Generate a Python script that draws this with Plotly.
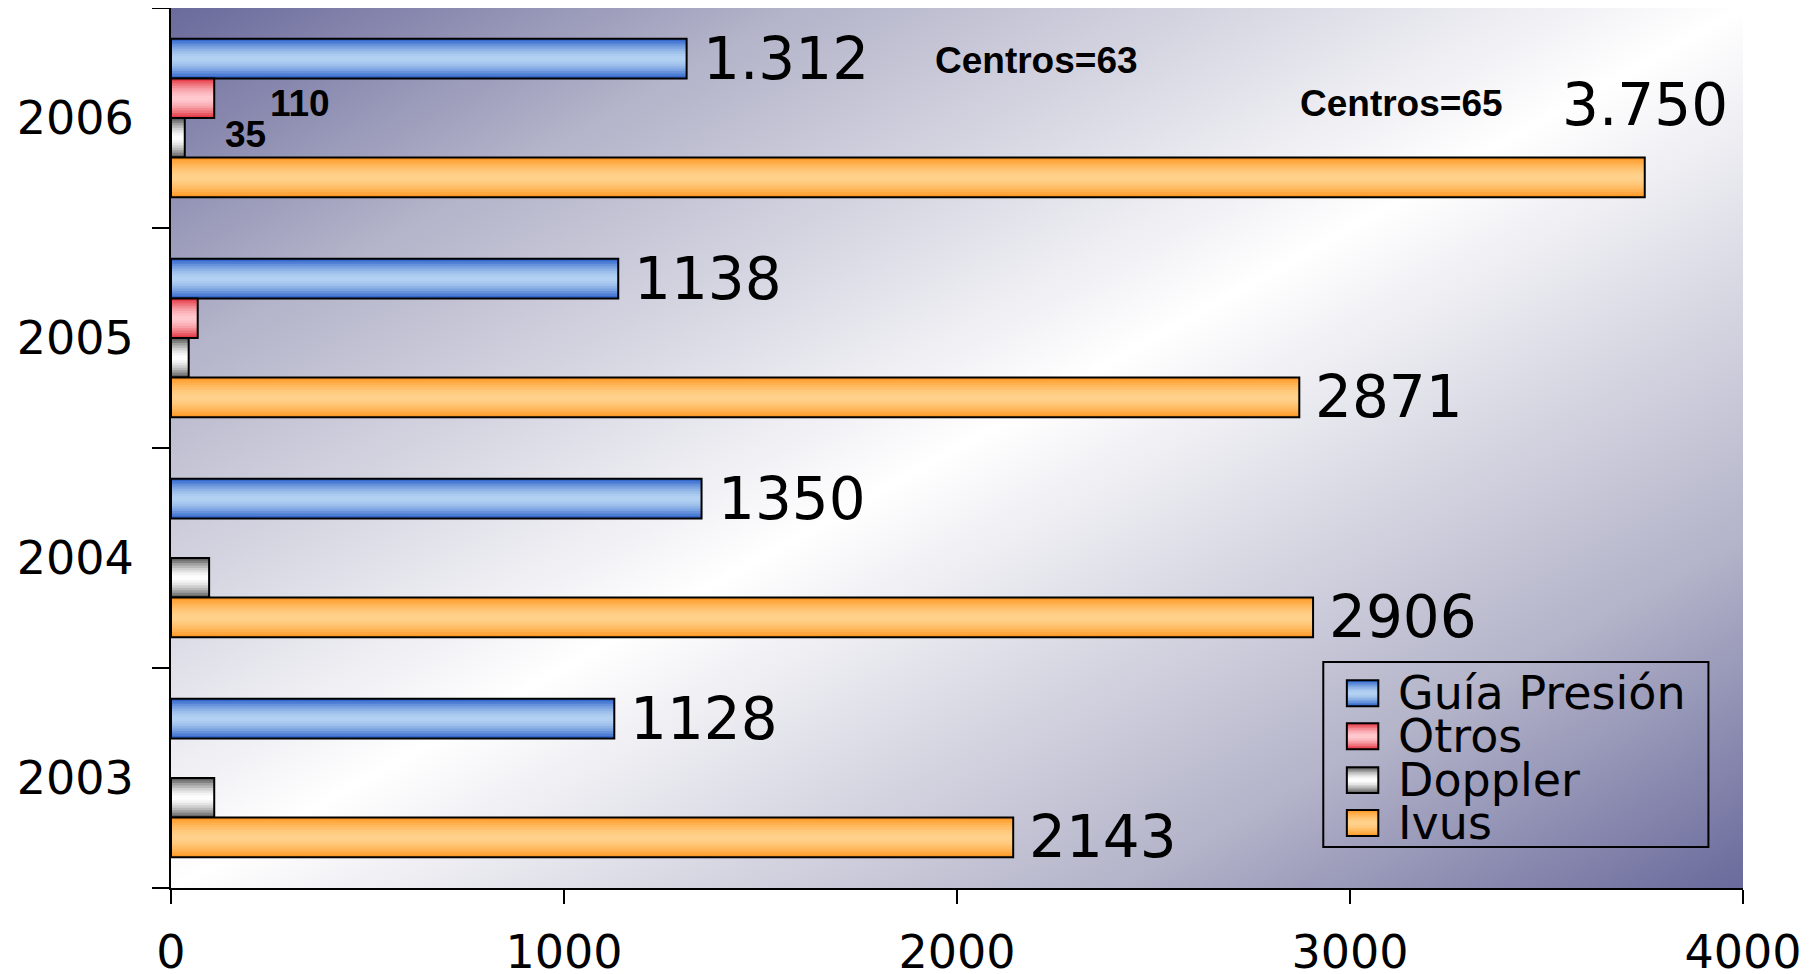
import base64
import plotly.graph_objects as go

years = ["2003", "2004", "2005", "2006"]
guia = [1128, 1350, 1138, 1312]
otros = [None, None, 68, 110]
doppler = [110, 97, 45, 35]
ivus = [2143, 2906, 2871, 3750]

series_names = ["Guía Presión", "Otros", "Doppler", "Ivus"]
guia_labels = ["1128", "1350", "1138", "1.312"]
ivus_labels = ["2143", "2906", "2871", "3.750"]
otros_label = "110"
doppler_label = "35"
centros_labels = ["Centros=63", "Centros=65"]
x_ticks = [0, 1000, 2000, 3000, 4000]

# bar look: dark edge, light middle (fake gradient made of stacked bars)
edge_colors = [(38, 92, 200), (226, 44, 56), (80, 80, 80), (255, 148, 28)]
mid_colors = [(180, 210, 242), (255, 202, 207), (255, 255, 255), (255, 210, 140)]
offsets = [0.18, 0.0, -0.18, -0.36]
BAR_W = 0.18
N_LAYERS = 8


def shade(k, r):
    # r = 0 at the centre of the bar, 1 at its edge
    f = r ** 1.6
    c = [round(m + (e - m) * f) for e, m in zip(edge_colors[k], mid_colors[k])]
    return "rgb(%d,%d,%d)" % tuple(c)


fig = go.Figure()

values = [guia, otros, doppler, ivus]
for k, vals in enumerate(values):
    centre = offsets[k] + BAR_W / 2
    for j in range(N_LAYERS):
        r_out = 1 - j / N_LAYERS
        r_mid = 1 - (j + 0.5) / N_LAYERS
        half = BAR_W / 2 * r_out
        fig.add_trace(go.Bar(y=years, x=vals, orientation="h",
                             offset=centre - half, width=2 * half,
                             marker=dict(color=shade(k, r_mid), line=dict(width=0)),
                             showlegend=False, hoverinfo="skip"))
    # outline on top
    fig.add_trace(go.Bar(y=years, x=vals, orientation="h", name=series_names[k],
                         offset=offsets[k], width=BAR_W,
                         marker=dict(color="rgba(0,0,0,0)", line=dict(color="black", width=2)),
                         showlegend=False))

# diagonal background of the plot area
svg = ("<svg xmlns='http://www.w3.org/2000/svg' viewBox='0 0 100 100' width='100' height='100' "
       "preserveAspectRatio='none'><defs><linearGradient id='g' x1='0' y1='0' x2='1' y2='1'>"
       "<stop offset='0' stop-color='#6a6a9c'/><stop offset='0.2' stop-color='#b4b4ca'/>"
       "<stop offset='0.5' stop-color='#ffffff'/><stop offset='0.8' stop-color='#b4b4ca'/>"
       "<stop offset='1' stop-color='#6a6a9c'/></linearGradient></defs>"
       "<rect width='100' height='100' fill='url(#g)'/></svg>")
bg = "data:image/svg+xml;base64," + base64.b64encode(svg.encode()).decode()
fig.add_layout_image(source=bg, xref="paper", yref="paper", x=0, y=1, sizex=1, sizey=1,
                     sizing="stretch", xanchor="left", yanchor="top", layer="below")

big = dict(family="DejaVu Sans", size=58, color="black")
bold = dict(family="Liberation Sans", size=37, color="black", weight="bold")

# value labels
for i, y in enumerate(years):
    fig.add_annotation(x=guia[i], y=i + 0.27, text=guia_labels[i], showarrow=False,
                       xanchor="left", xshift=14, font=big)
for i in range(3):
    fig.add_annotation(x=ivus[i], y=i - 0.27, text=ivus_labels[i], showarrow=False,
                       xanchor="left", xshift=14, font=big)
fig.add_annotation(x=ivus[3], y=3.06, text=ivus_labels[3], showarrow=False,
                   xanchor="center", font=big)
fig.add_annotation(x=otros[3], y=3.066, text=otros_label, showarrow=False,
                   xanchor="left", xshift=54, font=bold)
fig.add_annotation(x=doppler[3], y=2.925, text=doppler_label, showarrow=False,
                   xanchor="left", xshift=38, font=bold)
fig.add_annotation(x=2203, y=3.26, text=centros_labels[0], showarrow=False, font=bold)
fig.add_annotation(x=3130, y=3.066, text=centros_labels[1], showarrow=False, font=bold)

# legend drawn by hand (box, gradient swatches, names)
row_y = [0.2213, 0.1725, 0.1226, 0.0738]
sw_x0, sw_x1, sw_h = 0.748, 0.768, 0.0295
fig.add_shape(type="rect", xref="paper", yref="paper", x0=0.733, x1=0.978, y0=0.0466, y1=0.2568,
              line=dict(color="black", width=2), fillcolor="rgba(0,0,0,0)")
for k, name in enumerate(series_names):
    for j in range(N_LAYERS):
        r_out = 1 - j / N_LAYERS
        r_mid = 1 - (j + 0.5) / N_LAYERS
        half = sw_h / 2 * r_out
        fig.add_shape(type="rect", xref="paper", yref="paper", x0=sw_x0, x1=sw_x1,
                      y0=row_y[k] - half, y1=row_y[k] + half,
                      line=dict(width=0), fillcolor=shade(k, r_mid))
    fig.add_shape(type="rect", xref="paper", yref="paper", x0=sw_x0, x1=sw_x1,
                  y0=row_y[k] - sw_h / 2, y1=row_y[k] + sw_h / 2,
                  line=dict(color="black", width=2), fillcolor="rgba(0,0,0,0)")
    fig.add_annotation(xref="paper", yref="paper", x=0.779, y=row_y[k], text=name,
                       showarrow=False, xanchor="left", yanchor="middle",
                       font=dict(family="DejaVu Sans", size=46, color="black"))

# page body has an 8px margin, so the figure is made 8px smaller and shifted
fig.update_layout(width=1808, height=966, barmode="overlay",
                  margin=dict(l=163, r=73, t=0, b=86, autoexpand=False),
                  paper_bgcolor="white", plot_bgcolor="rgba(0,0,0,0)",
                  showlegend=False, font=dict(family="DejaVu Sans", color="black"))
fig.update_xaxes(range=[0, 4000], tickvals=x_ticks, ticks="outside", ticklen=14, tickwidth=2,
                 tickcolor="black", showline=True, linecolor="black", linewidth=2,
                 showgrid=False, zeroline=False, tickfont=dict(size=46), ticklabelstandoff=9,
                 automargin=False)
fig.update_yaxes(categoryorder="array", categoryarray=years, range=[-0.5, 3.5],
                 ticks="outside", tickson="boundaries", ticklen=17, tickwidth=2,
                 tickcolor="black", showline=True, linecolor="black", linewidth=2,
                 showgrid=False, tickfont=dict(size=46), ticklabelstandoff=26,
                 automargin=False)

fig.write_html("out.html")
